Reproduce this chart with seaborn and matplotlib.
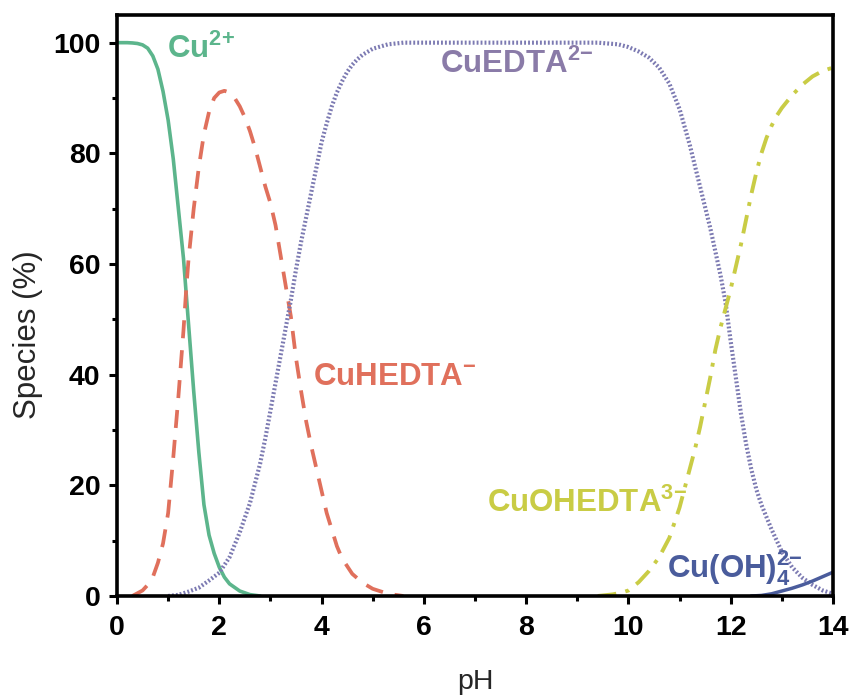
import matplotlib
matplotlib.use('Agg')
import matplotlib.pyplot as plt
import seaborn as sns
import pandas as pd
from matplotlib.ticker import MultipleLocator

# ---------------- data ----------------
cu2_ph = [0.0, 0.2, 0.3, 0.4, 0.5, 0.6, 0.7, 0.8, 0.9, 1.0, 1.1, 1.2, 1.3, 1.35, 1.4, 1.5,
          1.6, 1.7, 1.8, 1.9, 2.0, 2.1, 2.2, 2.4, 2.6, 2.8]
cu2_val = [100, 100, 99.95, 99.85, 99.6, 99.0, 97.6, 95.2, 91.2, 86.0, 79.0, 70.0, 61.0,
           55.0, 49.0, 37.0, 26.0, 16.5, 11.0, 7.7, 5.2, 3.4, 2.2, 0.9, 0.25, 0.0]

cuhedta_ph = [0.3, 0.4, 0.5, 0.6, 0.7, 0.8, 0.9, 1.0, 1.1, 1.2, 1.3, 1.35, 1.4, 1.5, 1.6,
              1.7, 1.8, 1.9, 2.0, 2.1, 2.2, 2.3, 2.4, 2.5, 2.6, 2.7, 2.8, 2.9, 3.0, 3.1,
              3.2, 3.3, 3.4, 3.5, 3.6, 3.7, 3.8, 3.9, 4.0, 4.1, 4.2, 4.3, 4.4, 4.6, 4.8,
              5.0, 5.3, 5.6]
cuhedta_val = [0.0, 0.5, 1.0, 2.0, 3.4, 6.0, 9.5, 15.0, 25.0, 36.0, 48.0, 55.0, 61.0,
               70.0, 77.5, 83.5, 87.5, 90.0, 91.0, 91.3, 91.0, 90.0, 88.5, 86.5, 84.0,
               81.0, 77.5, 74.0, 71.0, 67.0, 61.5, 56.0, 50.5, 43.0, 37.0, 31.5, 27.0,
               23.0, 19.0, 15.0, 12.0, 9.0, 6.8, 4.0, 2.4, 1.3, 0.4, 0.0]

cuedta_ph = [1.0, 1.2, 1.4, 1.6, 1.8, 2.0, 2.2, 2.4, 2.6, 2.8, 2.9, 3.0, 3.1, 3.2, 3.3,
             3.4, 3.5, 3.6, 3.7, 3.8, 3.9, 4.0, 4.1, 4.2, 4.3, 4.4, 4.5, 4.6, 4.7, 4.8,
             5.0, 5.3, 5.6, 9.4, 9.8, 10.0, 10.2, 10.4, 10.6, 10.8, 11.0, 11.2, 11.4,
             11.6, 11.8, 11.9, 12.0, 12.1, 12.2, 12.3, 12.4, 12.5, 12.6, 12.8, 13.0,
             13.2, 13.4, 13.6, 13.8, 14.0]
cuedta_val = [0.0, 0.2, 0.8, 1.5, 2.8, 4.2, 7.0, 11.5, 16.8, 24.0, 28.5, 33.5, 38.5,
              43.5, 48.5, 53.5, 59.0, 64.0, 68.5, 73.0, 77.5, 82.0, 85.4, 88.5, 91.0,
              93.0, 94.7, 96.0, 97.0, 97.8, 98.9, 99.7, 100, 100, 99.7, 99.2, 98.4,
              97.3, 95.5, 92.6, 88.0, 81.5, 74.0, 66.5, 58.0, 53.0, 46.0, 39.5, 33.0,
              27.5, 23.0, 19.3, 16.5, 12.0, 8.0, 5.2, 3.3, 2.0, 1.0, 0.4]

cuohedta_ph = [9.4, 9.7, 9.9, 10.0, 10.2, 10.4, 10.6, 10.8, 11.0, 11.1, 11.2, 11.3, 11.4,
               11.5, 11.6, 11.7, 11.8, 11.9, 12.0, 12.1, 12.2, 12.3, 12.4, 12.5, 12.6,
               12.7, 12.8, 12.9, 13.0, 13.2, 13.4, 13.6, 13.8, 14.0]
cuohedta_val = [0.0, 0.3, 0.7, 1.0, 2.5, 4.5, 7.0, 10.5, 16.0, 19.5, 23.0, 26.5, 30.5,
                35.0, 39.5, 44.5, 48.5, 52.0, 55.5, 59.5, 63.5, 68.0, 72.5, 76.5, 80.0,
                82.8, 85.0, 86.8, 88.2, 90.5, 92.4, 93.9, 94.9, 95.5]

cuoh4_ph = [12.4, 12.6, 12.8, 13.0, 13.2, 13.4, 13.6, 13.8, 14.0]
cuoh4_val = [0.0, 0.1, 0.4, 0.9, 1.4, 2.0, 2.7, 3.5, 4.3]

x_ticks = [0, 2, 4, 6, 8, 10, 12, 14]
y_ticks = [0, 20, 40, 60, 80, 100]

# ---------------- style ----------------
sns.set_theme(style='ticks')
plt.rcParams['font.family'] = ['Liberation Sans', 'DejaVu Sans']
plt.rcParams['mathtext.fontset'] = 'custom'
plt.rcParams['mathtext.rm'] = 'Liberation Sans:bold'
plt.rcParams['mathtext.it'] = 'Liberation Sans:bold'
plt.rcParams['mathtext.bf'] = 'Liberation Sans:bold'
plt.rcParams['mathtext.default'] = 'rm'

c_green = '#5cb58c'
c_red = '#e0705c'
c_purple = '#7c7ab2'
c_purple_txt = '#8a7ba8'
c_yellow = '#c9cc45'
c_blue = '#4a5c9c'

fig = plt.figure(figsize=(8.52, 6.95), dpi=100)
ax = fig.add_axes([117 / 852, 1 - 596 / 695, (833 - 117) / 852, (596 - 15) / 695])

sns.lineplot(x=cu2_ph, y=cu2_val, ax=ax, color=c_green, lw=2.6, linestyle='-')
sns.lineplot(x=cuhedta_ph, y=cuhedta_val, ax=ax, color=c_red, lw=2.7,
             linestyle=(0, (4.8, 3.2)))
sns.lineplot(x=cuedta_ph, y=cuedta_val, ax=ax, color=c_purple, lw=3.0,
             linestyle=(0, (0.45, 0.5)))
sns.lineplot(x=cuohedta_ph, y=cuohedta_val, ax=ax, color=c_yellow, lw=2.8,
             linestyle=(0, (4.8, 2.4, 1.0, 2.4)))
sns.lineplot(x=cuoh4_ph, y=cuoh4_val, ax=ax, color=c_blue, lw=2.5, linestyle='-')

ax.set_xlim(0, 14)
ax.set_ylim(0, 105)
ax.set_xticks(x_ticks)
ax.set_yticks(y_ticks)
ax.xaxis.set_minor_locator(MultipleLocator(1))
ax.yaxis.set_minor_locator(MultipleLocator(10))

for s in ax.spines.values():
    s.set_linewidth(2.6)
    s.set_color('black')
    s.set_visible(True)

ax.tick_params(which='major', direction='out', length=6, width=2.2, colors='black',
               labelsize=20.5)
ax.tick_params(which='minor', direction='out', length=3.5, width=2.2, colors='black')
ax.tick_params(axis='x', which='major', pad=8)
ax.tick_params(axis='y', which='major', pad=6)
for lab in ax.get_xticklabels() + ax.get_yticklabels():
    lab.set_fontweight('bold')

ax.set_xlabel('pH', fontsize=20.5, labelpad=20)
ax.set_ylabel('Species (%)', fontsize=22.5)
ax.yaxis.set_label_coords(-0.104, 0.45)

fs = 22.5
ax.text(0.98, 97.3, r'Cu$^{2{+}}$', color=c_green, fontsize=fs, fontweight='bold',
        ha='left', va='baseline')
ax.text(6.32, 94.6, r'CuEDTA$^{2{-}}$', color=c_purple_txt, fontsize=fs, fontweight='bold',
        ha='left', va='baseline')
ax.text(3.83, 38.1, r'CuHEDTA$^{{-}}$', color=c_red, fontsize=fs, fontweight='bold',
        ha='left', va='baseline')
ax.text(7.23, 15.2, r'CuOHEDTA$^{3{-}}$', color=c_yellow, fontsize=fs, fontweight='bold',
        ha='left', va='baseline')
ax.text(10.75, 3.4, r'Cu(OH)$_4^{2{-}}$', color=c_blue, fontsize=fs, fontweight='bold',
        ha='left', va='baseline')

fig.savefig('out.png', dpi=100)
